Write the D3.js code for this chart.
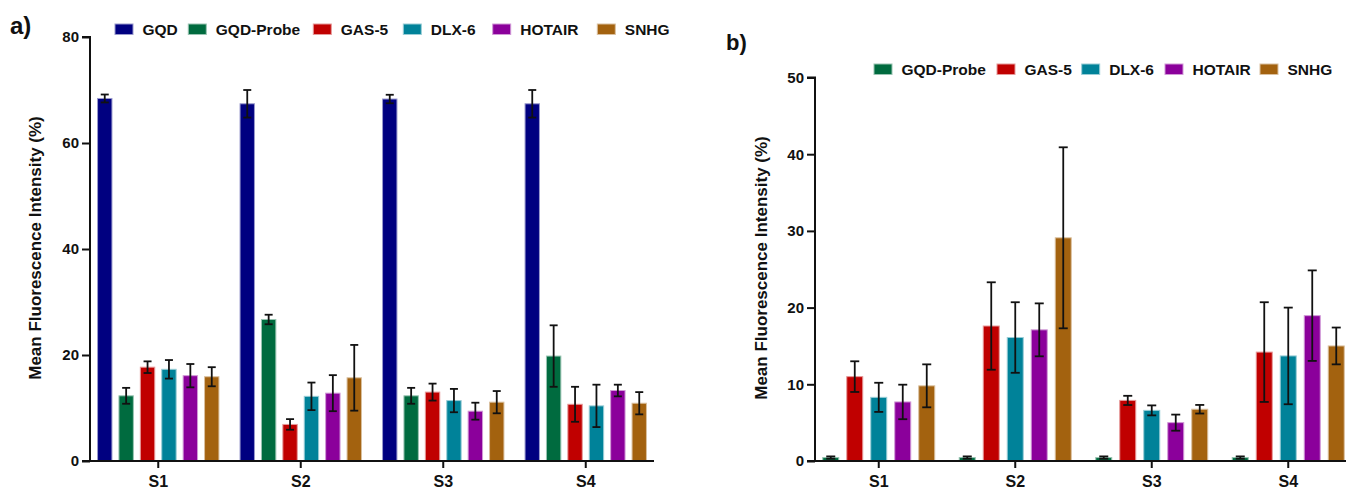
<!DOCTYPE html>
<html>
<head>
<meta charset="utf-8">
<script src="https://cdn.jsdelivr.net/npm/d3@7"></script>
<style>
  html, body { margin: 0; padding: 0; background: #fff; }
  svg { display: block; font-family: "Liberation Sans", Arial, sans-serif; }
</style>
</head>
<body>
<svg id="chart" width="1351" height="491"></svg>
<script>
// ---------- data ----------
const categories = ["S1", "S2", "S3", "S4"];

const seriesA = ["GQD", "GQD-Probe", "GAS-5", "DLX-6", "HOTAIR", "SNHG"];
// mean values per series (S1..S4)
const aGQD      = [68.4, 67.4, 68.3, 67.4];
const aProbe    = [12.3, 26.7, 12.3, 19.8];
const aGAS5     = [17.7, 6.9, 13.0, 10.7];
const aDLX6     = [17.3, 12.2, 11.4, 10.4];
const aHOTAIR   = [16.1, 12.8, 9.4, 13.3];
const aSNHG     = [15.9, 15.7, 11.1, 10.9];
// error (±) per series
const aGQDErr    = [0.75, 2.6, 0.8, 2.6];
const aProbeErr  = [1.5, 0.9, 1.5, 5.8];
const aGAS5Err   = [1.1, 1.0, 1.6, 3.3];
const aDLX6Err   = [1.75, 2.6, 2.2, 4.0];
const aHOTAIRErr = [2.2, 3.4, 1.6, 1.1];
const aSNHGErr   = [1.8, 6.2, 2.1, 2.1];

const seriesB = ["GQD-Probe", "GAS-5", "DLX-6", "HOTAIR", "SNHG"];
const bProbe    = [0.45, 0.45, 0.45, 0.45];
const bGAS5     = [11.0, 17.6, 7.9, 14.2];
const bDLX6     = [8.3, 16.1, 6.6, 13.7];
const bHOTAIR   = [7.7, 17.1, 5.0, 18.95];
const bSNHG     = [9.8, 29.1, 6.75, 15.0];
const bProbeErr  = [0.15, 0.15, 0.15, 0.15];
const bGAS5Err   = [2.0, 5.7, 0.6, 6.5];
const bDLX6Err   = [1.9, 4.6, 0.65, 6.3];
const bHOTAIRErr = [2.25, 3.45, 1.05, 5.9];
const bSNHGErr   = [2.8, 11.8, 0.56, 2.4];

const ticksA = [0, 20, 40, 60, 80];
const ticksB = [0, 10, 20, 30, 40, 50];
const yTitle = "Mean Fluorescence Intensity (%)";

const colors = {
  "GQD": "#000080",
  "GQD-Probe": "#006B3F",
  "GAS-5": "#C00000",
  "DLX-6": "#008299",
  "HOTAIR": "#8B009B",
  "SNHG": "#A3620F"
};

// ---------- helpers ----------
const svg = d3.select("#chart");

function buildRows(series, vals, errs) {
  const rows = [];
  categories.forEach((c, ci) => {
    series.forEach((s, si) => {
      rows.push({ cat: c, series: s, value: vals[si][ci], err: errs[si][ci] });
    });
  });
  return rows;
}

function drawPanel(opt) {
  const g = svg.append("g");
  const x = d3.scaleBand().domain(categories).range(opt.xRange);
  const xs = d3.scaleBand().domain(opt.series)
    .range([x.bandwidth() / 2 - opt.groupHalf, x.bandwidth() / 2 + opt.groupHalf])
    .paddingInner(opt.padInner).paddingOuter(0);
  const y = d3.scaleLinear().domain([0, opt.yMax]).range([461, opt.yTop]);

  const rows = buildRows(opt.series, opt.vals, opt.errs);

  // bars
  g.selectAll("rect.bar").data(rows).join("rect")
    .attr("class", "bar")
    .attr("x", d => x(d.cat) + xs(d.series))
    .attr("y", d => y(d.value))
    .attr("width", xs.bandwidth())
    .attr("height", d => y(0) - y(d.value))
    .attr("fill", d => colors[d.series])
    .attr("stroke", d => d3.interpolateRgb(colors[d.series], "#ffffff")(0.6))
    .attr("stroke-width", 1);

  // error bars
  const eg = g.selectAll("g.err").data(rows).join("g").attr("class", "err")
    .attr("transform", d => `translate(${x(d.cat) + xs(d.series) + xs.bandwidth() / 2},0)`);
  eg.append("line")
    .attr("x1", 0).attr("x2", 0)
    .attr("y1", d => y(d.value + d.err)).attr("y2", d => y(Math.max(0, d.value - d.err)))
    .attr("stroke", "#111").attr("stroke-width", 1.8);
  eg.append("line")
    .attr("x1", -opt.cap).attr("x2", opt.cap)
    .attr("y1", d => y(d.value + d.err)).attr("y2", d => y(d.value + d.err))
    .attr("stroke", "#111").attr("stroke-width", 1.8);
  eg.append("line")
    .attr("x1", -opt.cap).attr("x2", opt.cap)
    .attr("y1", d => y(Math.max(0, d.value - d.err))).attr("y2", d => y(Math.max(0, d.value - d.err)))
    .attr("stroke", "#111").attr("stroke-width", 1.8);

  // y axis
  const yAxis = d3.axisLeft(y).tickValues(opt.ticks).tickSize(8).tickPadding(3).tickFormat(d3.format("d"));
  const ya = g.append("g").attr("transform", `translate(${opt.yAxisX},0)`).call(yAxis);
  ya.select(".domain").attr("stroke", "#111").attr("stroke-width", 2)
    .attr("d", `M-8,${y(opt.yMax)}H0V${y(0)}`);
  ya.selectAll(".tick line").attr("stroke", "#111").attr("stroke-width", 2);
  ya.selectAll(".tick text").attr("fill", "#111")
    .style("font-size", "15px").style("font-weight", "bold");

  // x axis
  const xAxis = d3.axisBottom(x).tickSize(7).tickPadding(8);
  const xa = g.append("g").attr("transform", `translate(0,${y(0)})`).call(xAxis);
  xa.select(".domain").attr("stroke", "#111").attr("stroke-width", 2)
    .attr("d", `M${opt.yAxisX - 8},0H${opt.xEnd}`);
  xa.selectAll(".tick line").attr("stroke", "#111").attr("stroke-width", 2);
  xa.selectAll(".tick text").attr("fill", "#111")
    .style("font-size", "16px").style("font-weight", "bold");

  // y title
  g.append("text")
    .attr("transform", `translate(${opt.titleX},${opt.titleY}) rotate(-90)`)
    .attr("text-anchor", "middle")
    .attr("dominant-baseline", "central")
    .style("font-size", "17px").style("font-weight", "bold").attr("fill", "#111")
    .text(yTitle);

  // legend
  const lg = g.selectAll("g.leg").data(opt.series).join("g").attr("class", "leg")
    .attr("transform", (d, i) => `translate(${opt.legX[i]},${opt.legY})`);
  lg.append("rect")
    .attr("x", 0).attr("y", -11).attr("width", 18).attr("height", 10.5)
    .attr("fill", d => colors[d])
    .attr("stroke", d => d3.interpolateRgb(colors[d], "#ffffff")(0.6)).attr("stroke-width", 1);
  lg.append("text")
    .attr("x", 27.5).attr("y", 0)
    .style("font-size", "15.5px").style("font-weight", "bold").attr("fill", "#111")
    .text(d => d);

  // panel label
  g.append("text")
    .attr("x", opt.labelX).attr("y", opt.labelY)
    .style("font-size", opt.labelSize).style("font-weight", "bold").attr("fill", "#111")
    .text(opt.label);
}

drawPanel({
  series: seriesA,
  vals: [aGQD, aProbe, aGAS5, aDLX6, aHOTAIR, aSNHG],
  errs: [aGQDErr, aProbeErr, aGAS5Err, aDLX6Err, aHOTAIRErr, aSNHGErr],
  xRange: [87, 657], groupHalf: 60.7, padInner: 0.327,
  yMax: 80, yTop: 37, ticks: ticksA, yAxisX: 90, xEnd: 654, cap: 4,
  titleX: 35, titleY: 248,
  legX: [115, 188.3, 313.3, 403.3, 492.7, 597.3], legY: 35,
  label: "a)", labelX: 10, labelY: 34, labelSize: "24px"
});

drawPanel({
  series: seriesB,
  vals: [bProbe, bGAS5, bDLX6, bHOTAIR, bSNHG],
  errs: [bProbeErr, bGAS5Err, bDLX6Err, bHOTAIRErr, bSNHGErr],
  xRange: [810.5, 1356.5], groupHalf: 56, padInner: 0.333,
  yMax: 50, yTop: 77.5, ticks: ticksB, yAxisX: 815, xEnd: 1346, cap: 4.5,
  titleX: 761, titleY: 268,
  legX: [874, 997, 1081.7, 1165, 1260], legY: 75,
  label: "b)", labelX: 726, labelY: 50, labelSize: "22px"
});
</script>
</body>
</html>
